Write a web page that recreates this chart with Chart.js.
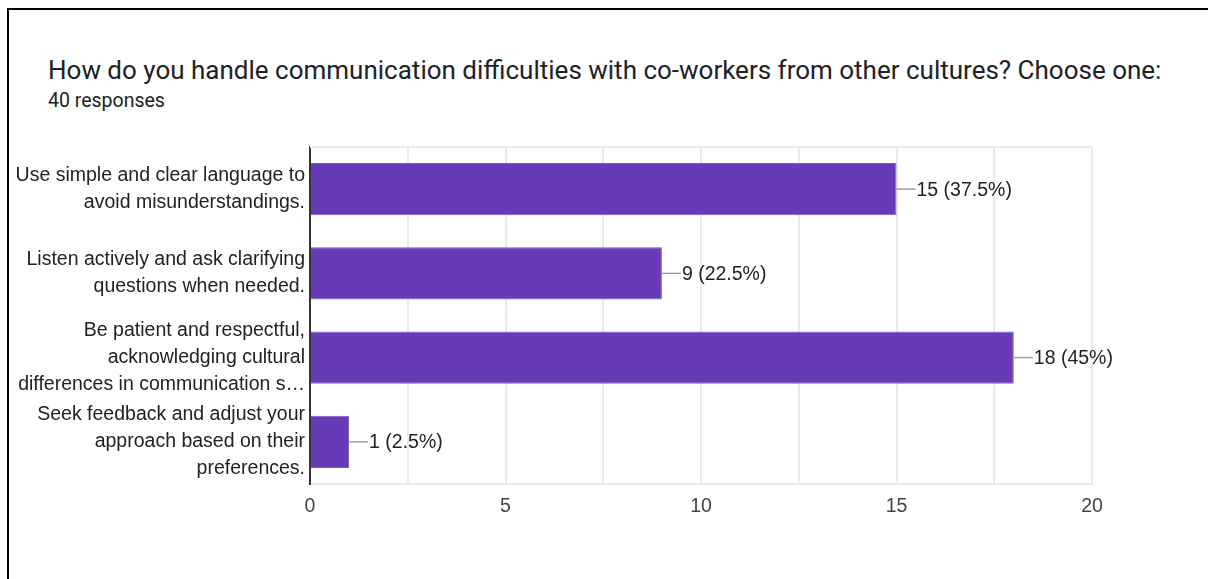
<!DOCTYPE html>
<html>
<head>
<meta charset="utf-8">
<script src="https://cdn.jsdelivr.net/npm/chart.js@4.4.1/dist/chart.umd.min.js"></script>
<style>
  html, body { margin: 0; padding: 0; background: #fff; width: 1208px; height: 579px; overflow: hidden; }
  .frame { position: absolute; left: 7px; top: 8px; right: -10px; bottom: -10px; border-top: 2px solid #000; border-left: 2px solid #000; }
  .title { position: absolute; left: 48px; top: 53px; font: 26px Roboto, sans-serif; line-height: 34px; color: #202124; white-space: nowrap; }
  .sub { position: absolute; left: 48px; top: 89px; font: 19.5px Roboto, sans-serif; line-height: 24px; color: #202124; }
  .wrap { position: absolute; left: 0; top: 130px; width: 1208px; height: 420px; }
</style>
</head>
<body>
<div class="frame"></div>
<div class="title">How do you handle communication difficulties with co-workers from other cultures? Choose one:</div>
<div class="sub">40 responses</div>
<div class="wrap"><canvas id="bar-chart"></canvas></div>
<script>
// answer options (wrapped the way the form shows them)
var answers = [
  ['Use simple and clear language to', 'avoid misunderstandings.'],
  ['Listen actively and ask clarifying', 'questions when needed.'],
  ['Be patient and respectful,', 'acknowledging cultural', 'differences in communication s\u2026'],
  ['Seek feedback and adjust your', 'approach based on their', 'preferences.']
];
var counts = [15, 9, 18, 1];
var totalResponses = 40;
var axisTicks = [0, 5, 10, 15, 20];

var labelFont = '"Liberation Sans", Arial, sans-serif';

function pct(v) {
  return Number((v / totalResponses * 100).toFixed(1)) + '%';
}

// leader line + "n (p%)" next to each bar
var valueLabels = {
  id: 'valueLabels',
  afterDatasetsDraw: function(chart) {
    var ctx = chart.ctx;
    var meta = chart.getDatasetMeta(0);
    ctx.save();
    ctx.font = '19.5px ' + labelFont;
    ctx.textBaseline = 'middle';
    ctx.textAlign = 'left';
    meta.data.forEach(function(bar, i) {
      var x = bar.x, y = bar.y;
      ctx.strokeStyle = '#9e9e9e';
      ctx.lineWidth = 1.5;
      ctx.beginPath();
      ctx.moveTo(x, y);
      ctx.lineTo(x + 19, y);
      ctx.stroke();
      ctx.fillStyle = '#222';
      ctx.fillText(counts[i] + ' (' + pct(counts[i]) + ')', x + 20, y + 1);
    });
    ctx.restore();
  }
};

// light line along the top of the plot area
var topLine = {
  id: 'topLine',
  beforeDatasetsDraw: function(chart) {
    var a = chart.chartArea, ctx = chart.ctx;
    ctx.save();
    ctx.strokeStyle = '#ebebeb';
    ctx.lineWidth = 2;
    ctx.beginPath();
    ctx.moveTo(a.left, a.top);
    ctx.lineTo(a.right, a.top);
    ctx.stroke();
    ctx.restore();
  }
};

var ctx = document.getElementById('bar-chart');

var data = {
  labels: answers,
  datasets: [{
    data: counts,
    backgroundColor: '#673ab7',
    borderColor: '#7e57c2',
    borderWidth: 1,
    barPercentage: 0.62,
    categoryPercentage: 1
  }]
};

var options = {
  indexAxis: 'y',
  responsive: true,
  maintainAspectRatio: false,
  animation: false,
  layout: { padding: { top: 17, right: 116, bottom: 26, left: 0 } },
  plugins: {
    legend: { display: false },
    tooltip: { enabled: false }
  },
  scales: {
    x: {
      min: 0,
      max: 20,
      afterFit: function(scale) { scale.height = 40; },
      afterBuildTicks: function(scale) {
        var t = [];
        for (var v = 0; v <= 20; v += 2.5) t.push({ value: v });
        scale.ticks = t;
      },
      grid: { color: '#ebebeb', lineWidth: 2, drawTicks: false },
      border: { color: '#ebebeb', width: 2 },
      ticks: {
        padding: 11,
        color: '#444',
        font: { family: labelFont, size: 19.5 },
        maxRotation: 0,
        autoSkip: false,
        callback: function(v) { return axisTicks.indexOf(v) >= 0 ? String(v) : ''; }
      }
    },
    y: {
      afterFit: function(scale) {
        scale.width = 310;
        scale.paddingTop = 0;
        scale.paddingBottom = 0;
      },
      grid: { display: false, drawTicks: false },
      border: { color: '#333', width: 2 },
      ticks: {
        padding: 5,
        autoSkip: false,
        color: '#222',
        font: { family: labelFont, size: 19.5, lineHeight: 1.38 }
      }
    }
  }
};

var chart1 = new Chart(ctx, {
  type: 'bar',
  data: data,
  options: options,
  plugins: [topLine, valueLabels]
});
</script>
</body>
</html>
